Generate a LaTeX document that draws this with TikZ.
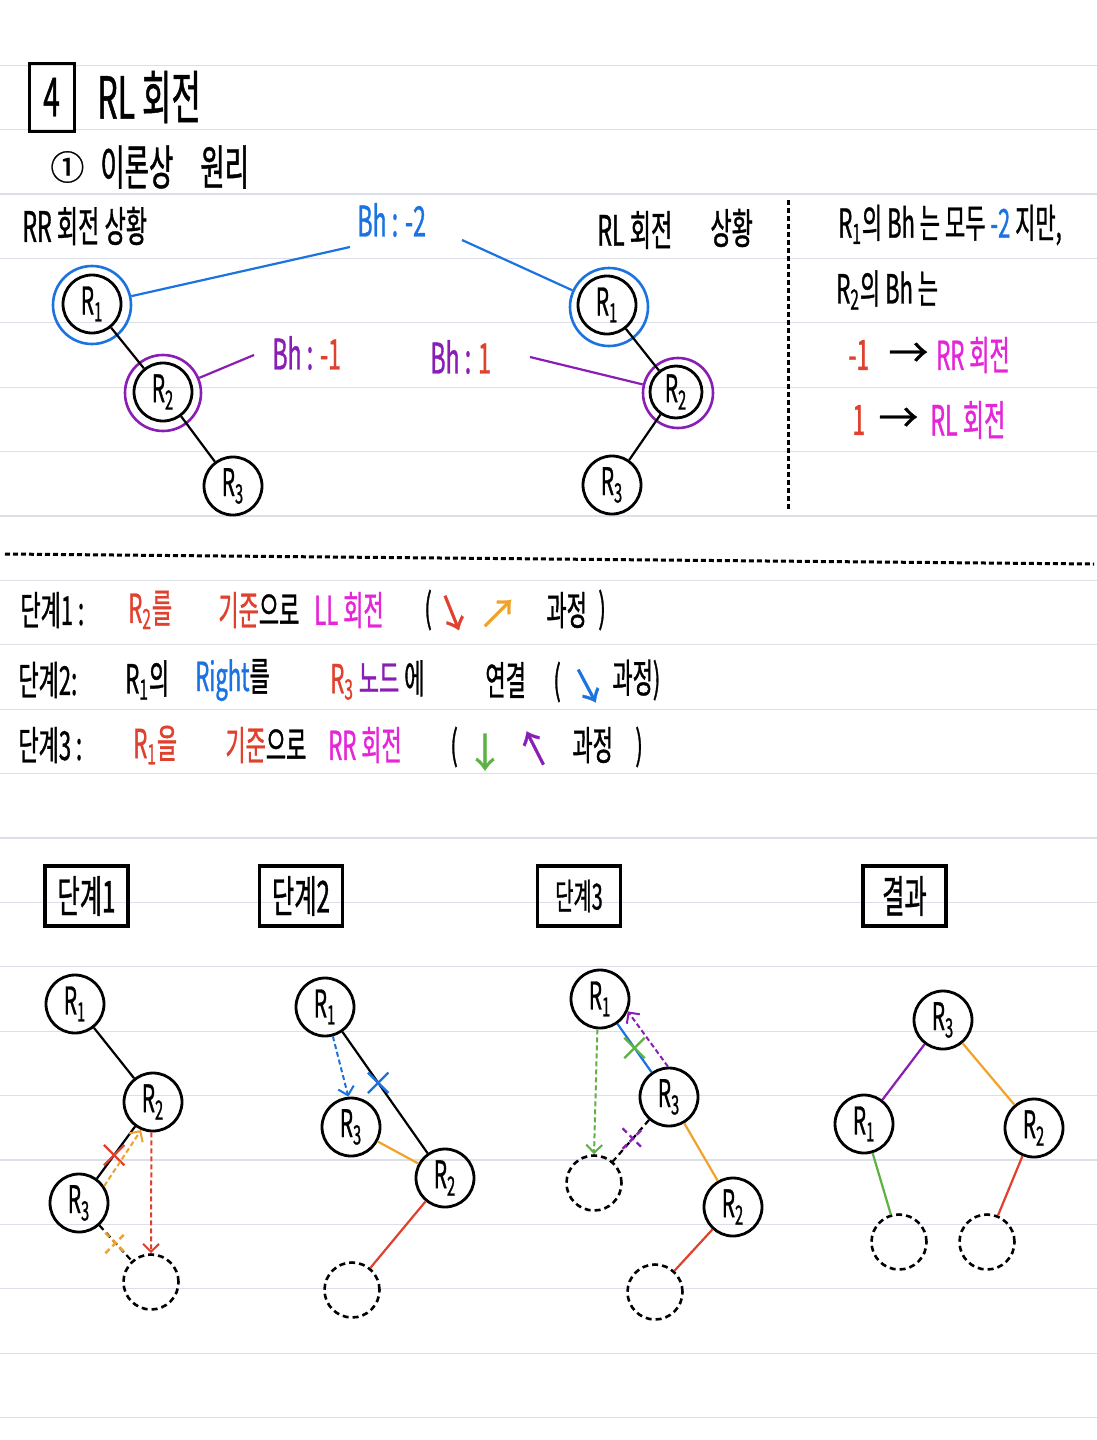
\documentclass[tikz,border=0pt]{standalone}
\usepackage{fontspec}
\setmainfont[FakeStretch=0.55,FakeBold=0.8]{Noto Sans CJK KR}
\newfontfamily\plainfont[FakeBold=0.8]{Noto Sans CJK KR}
\usepackage{xcolor}
\usepackage{tikz}
\usetikzlibrary{arrows.meta,positioning,shapes.misc}

\definecolor{cblue}{HTML}{1B73E2}
\definecolor{cpurp}{HTML}{8A1DB5}
\definecolor{cred}{HTML}{E0412E}
\definecolor{corange}{HTML}{F0A22A}
\definecolor{cmag}{HTML}{E426D8}
\definecolor{cgreen}{HTML}{5DB244}
\definecolor{crule}{HTML}{DCDEE8}

\newcommand{\fz}[1]{\fontsize{#1}{#1}\selectfont}
\newcommand{\Rn}[1]{R\textsubscript{#1}}

\begin{document}
\begin{tikzpicture}[x=0.5pt,y=-0.5pt,
  nd/.style={circle,draw,line width=1.4pt,minimum size=29pt,inner sep=0pt,font=\fz{19}},
  hole/.style={circle,draw,line width=1.3pt,dash pattern=on 3pt off 2pt,minimum size=27.5pt,inner sep=0pt},
  ring/.style={circle,draw,line width=1.3pt,minimum size=39pt,inner sep=0pt},
  lbl/.style={anchor=west,inner sep=0pt},
  txt/.style={lbl,font=\fz{21}},
  steptxt/.style={lbl,font=\fz{20}},
  arw/.style={inner sep=0pt,font=\plainfont\fz{20}},
  stepbox/.style={draw,line width=1.6pt,minimum width=41.5pt,minimum height=30pt,font=\fz{22}},
  link/.style={line width=1.1pt},
  dlink/.style={line width=1.1pt,dash pattern=on 3pt off 2pt},
  xmark/.style={cross out,draw,line width=1.2pt,minimum size=9pt,inner sep=0pt},
  darr/.style={line width=1pt,dash pattern=on 2.5pt off 1.5pt,-{Straight Barb[length=4pt,width=8pt]}},
  sep/.style={line width=1.5pt,dash pattern=on 2.5pt off 1.5pt},
  rule/.style={crule,line width=0.6pt}
]
\fill[white] (0,0) rectangle (1097,1440);
\useasboundingbox (0,0) rectangle (1097,1440);
% ruled paper
\foreach \i in {0,...,21}
  \draw[rule] (0,{65.2+64.4*\i}) -- (1097,{65.2+64.4*\i});

% heading
\node[draw,line width=1.5pt,minimum width=22.5pt,minimum height=34pt,inner sep=0pt,font=\fz{27}] (num) at (51.5,97) {4};
\node[lbl,font=\fz{29}] (title) at (97,97) {RL 회전};
\node[lbl,font=\plainfont\fz{17}] (circ) at (50,167) {①};
\node[lbl,font=\fz{24}] (sub) at (100,167) {이론상};
\node[lbl,font=\fz{24}] (sub2) at (200,167) {원리};

% two situations
\node[txt] (rrcase) at (22,226) {RR 회전 상황};
\node[txt,text=cblue] (bhtop) at (357,220) {Bh : -2};
\node[txt] (rlcase) at (597,230) {RL 회전};
\node[txt] (rlcase2) at (710,228) {상황};

\node[nd] (rr1) at (92,304) {\Rn{1}};
\node[ring,draw=cblue] (rr1o) at (92,305) {};
\node[nd] (rr2) at (163,392) {\Rn{2}};
\node[ring,draw=cpurp,minimum size=38pt] (rr2o) at (163,393) {};
\node[nd] (rr3) at (233,486) {\Rn{3}};
\draw[link] (rr1) -- (rr2);
\draw[link] (rr2) -- (rr3);

\node[nd] (rl1) at (607,305) {\Rn{1}};
\node[ring,draw=cblue] (rl1o) at (609,307) {};
\node[nd,minimum size=26pt] (rl2) at (676,392) {\Rn{2}};
\node[ring,draw=cpurp,minimum size=35pt] (rl2o) at (678,393) {};
\node[nd] (rl3) at (612,485) {\Rn{3}};
\draw[link] (rl1) -- (rl2);
\draw[link] (rl2) -- (rl3);

\node[txt,text=cpurp] (bhl) at (272,353) {Bh : \textcolor{cred}{-1}};
\node[txt,text=cpurp] (bhr) at (430,357) {Bh : \textcolor{cred}{1}};

\coordinate (bl) at (350,247);
\coordinate (br) at (462,240);
\coordinate (pl) at (254,355);
\coordinate (pr) at (530,357);
\draw[link,cblue] (rr1o) -- (bl);
\draw[link,cblue] (br) -- (rl1o);
\draw[link,cpurp] (rr2o) -- (pl);
\draw[link,cpurp] (pr) -- (rl2o);

% notes on the right
\coordinate (vt) at (788,200);
\coordinate (vb) at (788,512);
\draw[sep] (vt) -- (vb);
\node[txt,font=\fz{20}] (note1) at (838,225) {\Rn{1}의 Bh 는 모두 \textcolor{cblue}{-2} 지만,};
\node[txt,font=\fz{20}] (note2) at (836,290) {\Rn{2}의 Bh 는};
\node[txt,text=cred] (neg) at (848,355) {-1};
\node[lbl,font=\plainfont\fz{20}] (to1) at (888,355) {→};
\node[txt,text=cmag,font=\fz{20}] (rrrot) at (936,355) {RR 회전};
\node[txt,text=cred] (pos) at (852,420) {1};
\node[lbl,font=\plainfont\fz{20}] (to2) at (878,420) {→};
\node[txt,text=cmag] (rlrot) at (930,420) {RL 회전};

\coordinate (hl) at (5,554);
\coordinate (hr) at (1094,564);
\draw[sep] (hl) -- (hr);

% steps
\node[steptxt] (s1) at (20,610) {단계1 :};
\node[steptxt,text=cred] (s1a) at (128,610) {\Rn{2}를};
\node[steptxt,text=cred] (s1b) at (218,610) {기준\textcolor{black}{으로}};
\node[steptxt,text=cmag] (s1d) at (314,610) {LL 회전};
\node[steptxt] (s1e) at (424,610) {(};
\node[arw,text=cred,rotate=22] (s1f) at (452,613) {↓};
\node[arw,text=corange] (s1g) at (498,614) {↗};
\node[steptxt] (s1h) at (546,610) {과정};
\node[steptxt] (s1i) at (598,610) {)};

\node[steptxt] (s2) at (18,680) {단계2:};
\node[steptxt] (s2a) at (125,680) {\Rn{1}의};
\node[steptxt,text=cblue] (s2b) at (195,680) {Right\textcolor{black}{를}};
\node[steptxt,text=cred] (s2d) at (330,680) {\Rn{3} \textcolor{cpurp}{노드} \textcolor{black}{에}};
\node[steptxt] (s2g) at (485,680) {연결};
\node[steptxt] (s2h) at (553,682) {(};
\node[arw,text=cblue,rotate=28] (s2i) at (587,686) {↓};
\node[steptxt] (s2j) at (612,680) {과정)};

\node[steptxt] (s3) at (18,745) {단계3 :};
\node[steptxt,text=cred] (s3a) at (133,745) {\Rn{1}을};
\node[steptxt,text=cred] (s3b) at (225,745) {기준\textcolor{black}{ 으로}};
\node[steptxt,text=cmag] (s3d) at (328,745) {RR 회전};
\node[steptxt] (s3e) at (450,747) {(};
\node[arw,text=cgreen] (s3f) at (485,752) {↓};
\node[arw,text=cpurp,rotate=27] (s3g) at (535,748) {↑};
\node[steptxt] (s3h) at (572,745) {과정};
\node[steptxt] (s3i) at (635,747) {)};

% stage boxes
\node[stepbox] (h1) at (86.5,896) {단계1};
\node[stepbox] (h2) at (301,896) {단계2};
\node[stepbox,font=\fz{18}] (h3) at (579,896) {단계3};
\node[stepbox] (h4) at (904.5,896) {결과};

% stage 1
\node[nd] (k1r1) at (75,1004) {\Rn{1}};
\node[nd] (k1r2) at (153,1102) {\Rn{2}};
\node[nd] (k1r3) at (79,1203) {\Rn{3}};
\node[hole] (k1nil) at (151,1282) {};
\draw[link] (k1r1) -- (k1r2);
\draw[link] (k1r2) -- node[xmark,cred,pos=0.55]{} (k1r3);
\draw[darr,corange] (k1r3.34) -- (k1r2.247);
\draw[darr,cred] (k1r2.-93) -- (k1nil.north);
\draw[dlink] (k1r3) -- node[xmark,corange,pos=0.5]{} (k1nil);

% stage 2
\node[nd] (k2r1) at (325,1007) {\Rn{1}};
\node[nd] (k2r3) at (351,1127) {\Rn{3}};
\node[nd] (k2r2) at (445,1178) {\Rn{2}};
\node[hole] (k2nil) at (352,1290) {};
\draw[link] (k2r1) -- node[xmark,cblue,pos=0.42]{} (k2r2);
\draw[darr,cblue] (k2r1.-75) -- (k2r3.95);
\draw[link,corange] (k2r3) -- (k2r2);
\draw[link,cred] (k2r2) -- (k2nil);

% stage 3
\node[nd] (k3r1) at (600,999) {\Rn{1}};
\node[nd] (k3r3) at (669,1097) {\Rn{3}};
\node[nd] (k3r2) at (733,1207) {\Rn{2}};
\node[hole] (k3nilA) at (594,1183) {};
\node[hole] (k3nilB) at (655,1292) {};
\draw[link,cblue] (k3r1) -- node[xmark,cgreen,pos=0.5]{} (k3r3);
\draw[darr,cpurp] (k3r3.92) -- (k3r1.-24);
\draw[darr,cgreen] (k3r1.-95) -- (k3nilA.north);
\draw[dlink] (k3r3) -- node[xmark,cpurp,pos=0.45]{} (k3nilA);
\draw[link,corange] (k3r3) -- (k3r2);
\draw[link,cred] (k3r2) -- (k3nilB);

% result
\node[nd] (fr3) at (943,1020) {\Rn{3}};
\node[nd] (fr1) at (864,1124) {\Rn{1}};
\node[nd] (fr2) at (1034,1128) {\Rn{2}};
\node[hole] (fnilA) at (899,1242) {};
\node[hole] (fnilB) at (987,1242) {};
\draw[link,cpurp] (fr3) -- (fr1);
\draw[link,corange] (fr3) -- (fr2);
\draw[link,cgreen] (fr1) -- (fnilA);
\draw[link,cred] (fr2) -- (fnilB);
\end{tikzpicture}
\end{document}
